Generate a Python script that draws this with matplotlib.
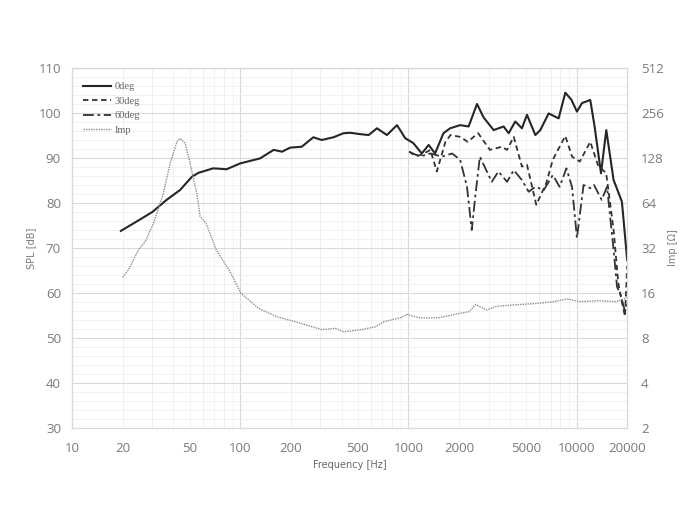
import numpy as np
import matplotlib
matplotlib.use("Agg")
import matplotlib.pyplot as plt
from matplotlib.ticker import FixedLocator, NullFormatter, MultipleLocator

# ---- data ----
f_0deg = [19.5, 25, 30, 36.5, 43.9, 51.5, 56.4, 69, 83, 100, 131, 158, 177, 198, 232,
          272, 305, 358, 411, 451, 516, 580, 650, 745, 855, 893, 957, 1070, 1200, 1320,
          1440, 1615, 1770, 2030, 2280, 2558, 2800, 3213, 3683, 3946, 4318, 4731, 5070,
          5685, 6087, 6820, 7820, 8570, 9300, 10050, 10770, 12060, 12800, 13970, 15020,
          16600, 18600, 20000]
spl_0deg = [73.8, 76.2, 78.0, 80.7, 82.9, 85.8, 86.7, 87.7, 87.5, 88.8, 89.9, 91.8, 91.4,
            92.3, 92.5, 94.6, 94.0, 94.6, 95.5, 95.6, 95.3, 95.1, 96.6, 95.1, 97.3, 96.2,
            94.4, 93.3, 91.0, 92.9, 91.0, 95.5, 96.6, 97.3, 97.0, 102.0, 99.0, 96.2, 97.0,
            95.5, 98.1, 96.6, 99.6, 95.1, 96.2, 99.9, 98.8, 104.5, 103.0, 100.3, 102.2,
            102.9, 97.0, 86.6, 96.2, 85.1, 80.3, 67.3]

f_30deg = [1010, 1100, 1200, 1350, 1476, 1660, 1780, 2030, 2250, 2600, 3050, 3600, 3860,
           4230, 4730, 5070, 5760, 6600, 7220, 8570, 9400, 10450, 12060, 13400, 15000,
           16600, 17700, 18600, 19400, 20000]
spl_30deg = [91.4, 90.5, 90.7, 91.8, 87.0, 93.6, 95.1, 94.7, 93.6, 95.5, 91.8, 92.5, 91.8,
             94.7, 88.1, 88.5, 79.6, 84.4, 89.6, 94.9, 90.3, 89.2, 93.6, 88.4, 86.6, 74.0,
             62.2, 58.0, 54.8, 66.0]

f_60deg = [1010, 1170, 1350, 1580, 1820, 2030, 2230, 2380, 2500, 2660, 3130, 3430, 3860,
           4230, 4730, 5190, 5690, 6390, 7220, 7930, 8700, 9400, 10050, 11000, 12060,
           12700, 14100, 15170, 16600, 17400, 18300, 19300, 20000]
spl_60deg = [91.4, 90.3, 91.0, 90.3, 91.0, 89.6, 83.6, 74.0, 81.6, 90.3, 84.7, 87.0, 84.7,
             87.3, 85.1, 82.5, 83.6, 82.9, 86.2, 83.6, 87.7, 83.5, 72.2, 84.0, 83.3, 84.0,
             80.7, 83.6, 69.6, 61.4, 59.5, 56.2, 58.0]

f_imp = [20, 21.6, 24.8, 27.2, 30.5, 34.9, 38.3, 42, 43.9, 47, 50.3, 55.2, 57.7, 62.6, 72,
         87, 101, 129, 165, 211, 269, 305, 340, 366, 412, 528, 635, 718, 800, 916, 975,
         1170, 1500, 2030, 2300, 2510, 2930, 3300, 4190, 5690, 7280, 8800, 10500, 13500,
         17200, 19500, 20000]
imp = [20.4, 22.8, 31.1, 35.3, 46.8, 74.3, 118, 164, 173, 161, 118, 74, 52, 46.8, 31.1,
       22.2, 15.9, 12.6, 11.1, 10.3, 9.5, 9.1, 9.2, 9.3, 8.8, 9.1, 9.5, 10.3, 10.6, 11.0,
       11.5, 10.9, 10.9, 11.7, 12.0, 13.4, 12.3, 13.0, 13.3, 13.6, 14.0, 14.6, 14.0, 14.2,
       14.0, 14.7, 15.0]

x_ticks = [10, 20, 50, 100, 200, 500, 1000, 2000, 5000, 10000, 20000]
spl_ticks = [30, 40, 50, 60, 70, 80, 90, 100, 110]
imp_ticks = [2, 4, 8, 16, 32, 64, 128, 256, 512]

label_grey = '#7a7a7a'
tick_font = ['Open Sans', 'DejaVu Sans']
legend_font = ['Liberation Serif', 'DejaVu Serif']
axis_font = ['Liberation Sans Narrow', 'DejaVu Sans']

fig = plt.figure(figsize=(7, 5.25), dpi=100)
ax = fig.add_axes([0.103, 0.1848, 0.793, 0.6857])
ax2 = ax.twinx()

# SPL curves
ax.plot(f_0deg, spl_0deg, color='#262626', lw=1.5, ls='-', label='0deg')
ax.plot(f_30deg, spl_30deg, color='#333333', lw=1.3, ls=(0, (3, 2)), label='30deg')
ax.plot(f_60deg, spl_60deg, color='#333333', lw=1.3, ls=(0, (6, 2, 1.5, 2)), label='60deg')
# impedance on secondary axis
ax2.plot(f_imp, imp, color='#8c8c8c', lw=1.0, ls=(0, (1, 0.8)), label='Imp')

ax.set_xscale('log')
ax.set_xlim(10, 20000)
ax.set_ylim(30, 110)
ax2.set_yscale('log', base=2)
ax2.set_ylim(2, 512)

ax.xaxis.set_major_locator(FixedLocator(x_ticks))
ax.set_xticklabels([str(t) for t in x_ticks])
ax.xaxis.set_minor_locator(FixedLocator(
    [m * 10 ** d for d in range(1, 5) for m in range(2, 10) if m * 10 ** d <= 20000]))
ax.xaxis.set_minor_formatter(NullFormatter())
ax.set_yticks(spl_ticks)
ax.yaxis.set_minor_locator(MultipleLocator(2))
ax2.yaxis.set_major_locator(FixedLocator(imp_ticks))
ax2.set_yticklabels([str(t) for t in imp_ticks])
ax2.yaxis.set_minor_locator(FixedLocator([]))

# grid: decades major, the rest minor
ax.grid(False, which='major', axis='x')
ax.grid(True, which='major', axis='y', color='#d9d9d9', lw=0.8)
ax.grid(True, which='minor', color='#efefef', lw=0.6)
ax.set_axisbelow(True)
for t in [10, 100, 1000, 10000]:
    ax.axvline(t, color='#d9d9d9', lw=0.8, zorder=0)
for t in [20, 50, 200, 500, 2000, 5000]:
    ax.axvline(t, color='#efefef', lw=0.6, zorder=0)

for a in (ax, ax2):
    for s in a.spines.values():
        s.set_color('#d9d9d9')
        s.set_linewidth(0.8)
    a.tick_params(which='both', length=0)

ax.tick_params(axis='x', pad=10, labelsize=9.5, labelcolor=label_grey)
ax.tick_params(axis='y', pad=8, labelsize=9.5, labelcolor=label_grey)
ax2.tick_params(axis='y', pad=10, labelsize=9.5, labelcolor=label_grey)
for lab in ax.get_xticklabels() + ax.get_yticklabels() + ax2.get_yticklabels():
    lab.set_family(tick_font)

ax.set_xlabel('Frequency [Hz]', fontsize=7, color='#666666', labelpad=4, family=axis_font)
ax.set_ylabel('SPL [dB]', fontsize=7, color=label_grey, labelpad=2, family=axis_font)
ax2.set_ylabel('Imp [\u03a9]', fontsize=7, color=label_grey, rotation=90, labelpad=3,
               family=axis_font)

h1, l1 = ax.get_legend_handles_labels()
h2, l2 = ax2.get_legend_handles_labels()
leg = ax2.legend(h1 + h2, l1 + l2, loc='upper left', bbox_to_anchor=(0.0, 0.99),
                 frameon=False, handlelength=2.7, handletextpad=0.35, labelspacing=0.5,
                 borderaxespad=0.6, prop={'family': legend_font, 'size': 7.5})
for t in leg.get_texts():
    t.set_color('#666666')

fig.savefig('out.png', dpi=100)
